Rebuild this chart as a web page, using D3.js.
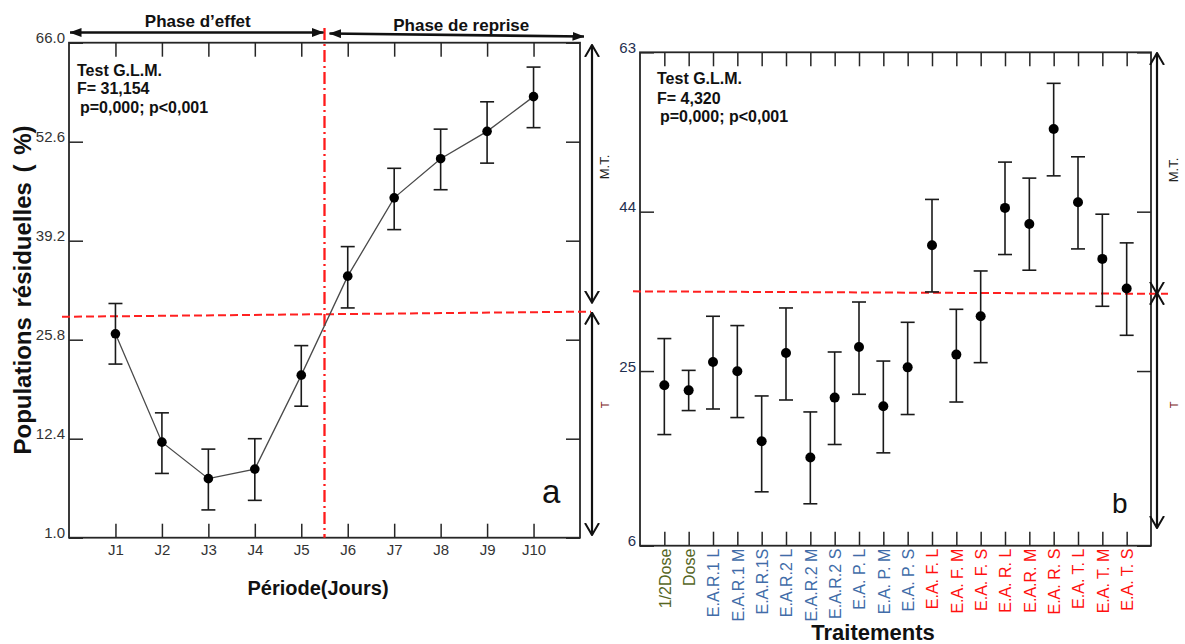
<!DOCTYPE html>
<html><head><meta charset="utf-8">
<script src="https://cdn.jsdelivr.net/npm/d3@7/dist/d3.min.js"></script>
<style>
html,body{margin:0;padding:0;background:#fff;}
svg{display:block;font-family:"Liberation Sans",Arial,sans-serif;}
</style></head><body>
<svg id="chart" width="1185" height="644"></svg>
<script>
// ---------- DATA ----------
// Panel a : residual populations over time
const days = ["J1","J2","J3","J4","J5","J6","J7","J8","J9","J10"];
const residualMean = [26.6, 12.0, 7.8, 8.9, 21.0, 34.4, 45.0, 50.3, 54.0, 58.7];
const residualLow  = [22.5, 8.4, 4.2, 5.3, 16.8, 30.1, 40.7, 46.1, 49.7, 54.5];
const residualHigh = [30.7, 15.9, 11.2, 12.4, 25.0, 38.4, 49.0, 54.3, 58.0, 62.7];
const leftTicks = [1.0, 12.4, 25.8, 39.2, 52.6, 66.0];
const leftThreshold = [28.9, 29.6];   // red dashed line (start, end)
const phaseLabels = ["Phase d\u2019effet", "Phase de reprise"];
const statsA = ["Test G.L.M.", "F= 31,154", "p=0,000; p<0,001"];

// Panel b : treatments
const treatments = ["1/2Dose","Dose","E.A.R.1 L","E.A.R.1 M","E.A.R.1S","E.A.R.2 L","E.A.R.2 M","E.A.R.2 S",
  "E.A. P. L","E.A. P. M","E.A. P. S","E.A. F. L","E.A. F. M","E.A. F. S","E.A. R. L","E.A.R. M","E.A. R. S",
  "E.A. T. L","E.A. T. M","E.A. T. S"];
const treatGroup = ["dose","dose","blue","blue","blue","blue","blue","blue","blue","blue","blue",
  "red","red","red","red","red","red","red","red","red"];
const treatMean = [23.45, 22.9, 26.07, 24.97, 17.37, 27.15, 15.6, 22.11, 27.86, 21.17, 25.44,
  40.0, 26.96, 31.53, 44.45, 42.54, 53.85, 45.13, 38.37, 34.83];
const treatLow  = [18.09, 20.7, 20.87, 19.94, 11.86, 21.85, 10.56, 17.01, 22.47, 16.1, 20.27,
  34.43, 21.63, 26.0, 38.89, 37.02, 48.27, 39.56, 32.72, 29.26];
const treatHigh = [28.87, 25.08, 31.53, 30.42, 22.29, 32.52, 20.55, 27.27, 33.23, 26.19, 30.81,
  45.46, 32.36, 36.93, 49.91, 48.0, 59.3, 50.54, 43.7, 40.28];
const rightTicks = [6, 25, 44, 63];
const rightThreshold = [34.5, 34.2];
const statsB = ["Test G.L.M.", "F= 4,320", "p=0,000; p<0,001"];

// ---------- STYLE ----------
const groupColor = {dose:"#55661f", blue:"#416ca8", red:"#ff1010"};
const ink = "#262626";
const svg = d3.select("#chart");
const defs = svg.append("defs");
defs.append("marker").attr("id","tri").attr("viewBox","0 0 12 9").attr("refX",11.5).attr("refY",4.5)
  .attr("markerWidth",12).attr("markerHeight",9).attr("markerUnits","userSpaceOnUse")
  .attr("orient","auto-start-reverse")
  .append("path").attr("d","M0,0 L12,4.5 L0,9 Z").attr("fill","#111");
defs.append("marker").attr("id","chev").attr("viewBox","0 0 13 16").attr("refX",12).attr("refY",8)
  .attr("markerWidth",13).attr("markerHeight",16).attr("markerUnits","userSpaceOnUse")
  .attr("orient","auto-start-reverse")
  .append("path").attr("d","M0,1 L12,8 L0,15").attr("fill","none").attr("stroke","#111").attr("stroke-width",2);

function frameAxes(g, x, y, box, yTicks, yFmt, yLabelColor, bottomLabels) {
  g.append("g").attr("transform",`translate(${box.x0},0)`)
    .call(d3.axisLeft(y).tickValues(yTicks).tickSizeInner(-14).tickSizeOuter(0).tickPadding(4).tickFormat(yFmt))
    .call(a=>{a.select(".domain").remove(); a.selectAll("line").attr("stroke",ink).attr("stroke-width",1.5);
      a.selectAll("text").attr("dy","0").attr("fill",yLabelColor).style("font-size","15px").style("font-family","Liberation Sans, Arial");});
  g.append("g").attr("transform",`translate(${box.x1},0)`)
    .call(d3.axisRight(y).tickValues(yTicks).tickSizeInner(-14).tickSizeOuter(0).tickFormat(""))
    .call(a=>{a.select(".domain").remove(); a.selectAll("line").attr("stroke",ink).attr("stroke-width",1.5);});
  g.append("g").attr("transform",`translate(0,${box.y0})`)
    .call(d3.axisTop(x).tickSizeInner(-14).tickSizeOuter(0).tickFormat(""))
    .call(a=>{a.select(".domain").remove(); a.selectAll("line").attr("stroke",ink).attr("stroke-width",1.5);});
  const b = g.append("g").attr("transform",`translate(0,${box.y1})`)
    .call(d3.axisBottom(x).tickSizeInner(-14).tickSizeOuter(0).tickPadding(bottomLabels ? 7 : 0).tickFormat(bottomLabels ? null : ""))
    .call(a=>{a.select(".domain").remove(); a.selectAll("line").attr("stroke",ink).attr("stroke-width",1.5);});
  g.append("rect").attr("x",box.x0).attr("y",box.y0).attr("width",box.x1-box.x0).attr("height",box.y1-box.y0)
    .attr("fill","none").attr("stroke",ink).attr("stroke-width",1.8);
  return b;
}

function errorBars(g, cats, x, y, mean, low, high, r) {
  const eb = g.append("g");
  cats.forEach((c,i)=>{
    const cx = x(c);
    eb.append("line").attr("x1",cx).attr("x2",cx).attr("y1",y(high[i])).attr("y2",y(low[i]))
      .attr("stroke","#1a1a1a").attr("stroke-width",1.6);
    [high[i], low[i]].forEach(v=>eb.append("line").attr("x1",cx-7).attr("x2",cx+7).attr("y1",y(v)).attr("y2",y(v))
      .attr("stroke","#1a1a1a").attr("stroke-width",1.6));
  });
  g.append("g").selectAll("circle").data(cats).join("circle")
    .attr("cx",c=>x(c)).attr("cy",(c,i)=>y(mean[i])).attr("r",r).attr("fill","#000");
}

// ---------- PANEL A ----------
const A = {x0:69, x1:580, y0:42.7, y1:537.7};
const gA = svg.append("g");
const xA = d3.scalePoint().domain(days).range([A.x0, A.x1]).padding(1);
const yA = d3.scaleLinear().domain(leftTicks).range(leftTicks.map((d,i)=>A.y1 - i*(A.y1-A.y0)/(leftTicks.length-1)));
const axA = frameAxes(gA, xA, yA, A, leftTicks, d3.format(".1f"), "#333", true);
axA.selectAll("text").attr("fill","#333").style("font-size","15px").style("font-family","Liberation Sans, Arial");

// red threshold line (horizontal) and phase separator (vertical)
gA.append("line").attr("x1",62).attr("x2",591).attr("y1",yA(leftThreshold[0])).attr("y2",yA(leftThreshold[1]))
  .attr("stroke","#ff2020").attr("stroke-width",2).attr("stroke-dasharray","8,4");
const sepX = (xA("J5")+xA("J6"))/2;
gA.append("line").attr("x1",sepX).attr("x2",sepX).attr("y1",28).attr("y2",A.y1)
  .attr("stroke","#ff1a1a").attr("stroke-width",2.3).attr("stroke-dasharray","12,4,2,4");

// line + error bars
gA.append("path").datum(days).attr("fill","none").attr("stroke","#4a4a4a").attr("stroke-width",1.3)
  .attr("d", d3.line().x(d=>xA(d)).y((d,i)=>yA(residualMean[i])));
errorBars(gA, days, xA, yA, residualMean, residualLow, residualHigh, 4.8);

// phase arrows
gA.append("line").attr("x1",A.x0+1).attr("x2",sepX-1).attr("y1",32.5).attr("y2",32.5)
  .attr("stroke","#111").attr("stroke-width",2.6).attr("marker-start","url(#tri)").attr("marker-end","url(#tri)");
gA.append("line").attr("x1",sepX+5).attr("x2",A.x1+4).attr("y1",33.5).attr("y2",36.5)
  .attr("stroke","#111").attr("stroke-width",2.6).attr("marker-start","url(#tri)").attr("marker-end","url(#tri)");
gA.append("text").attr("x",(A.x0+sepX)/2+1).attr("y",26.5).attr("text-anchor","middle")
  .style("font-size","17px").style("font-weight","bold").attr("fill","#111").text(phaseLabels[0]);
gA.append("text").attr("x",(sepX+A.x1)/2+9).attr("y",30.5).attr("text-anchor","middle")
  .style("font-size","17px").style("font-weight","bold").attr("fill","#111").text(phaseLabels[1]);

// stats text
[[77,76],[77,94],[80,113]].forEach((p,i)=>gA.append("text").attr("x",p[0]).attr("y",p[1])
  .style("font-size","16px").style("font-weight","bold").attr("fill","#111").text(statsA[i]));

// panel letter
gA.append("text").attr("x",542).attr("y",502.5).style("font-size","33px").attr("fill","#111").text("a");

// axis titles
gA.append("text").attr("transform","translate(31,290) rotate(-90)").attr("text-anchor","middle")
  .style("font-size","24px").style("font-weight","bold").style("word-spacing","3px").attr("fill","#111")
  .text("Populations r\u00e9siduelles ( %)");
gA.append("text").attr("x",318).attr("y",595).attr("text-anchor","middle")
  .style("font-size","20px").style("font-weight","bold").attr("fill","#111").text("P\u00e9riode(Jours)");

// side arrows
function sideArrows(g, x, yTop, ySplitA, ySplitB, yBot, lx, mtY, tY) {
  g.append("line").attr("x1",x).attr("x2",x).attr("y1",yTop).attr("y2",ySplitA)
    .attr("stroke","#111").attr("stroke-width",2.2).attr("marker-start","url(#chev)").attr("marker-end","url(#chev)");
  g.append("line").attr("x1",x).attr("x2",x).attr("y1",ySplitB).attr("y2",yBot)
    .attr("stroke","#111").attr("stroke-width",2.2).attr("marker-start","url(#chev)").attr("marker-end","url(#chev)");
  g.append("text").attr("transform",`translate(${lx},${mtY}) rotate(-90)`).attr("text-anchor","middle")
    .style("font-size","13px").attr("fill","#222").text("M.T.");
  g.append("text").attr("transform",`translate(${lx},${tY}) rotate(-90)`).attr("text-anchor","middle")
    .style("font-size","11px").attr("fill","#7a1a1a").text("T");
}
sideArrows(gA, 592, 45, yA(leftThreshold[1])-9, yA(leftThreshold[1])+1, 535, 609, 167, 405);

// ---------- PANEL B ----------
const B = {x0:640, x1:1151, y0:52.3, y1:545.7};
const gB = svg.append("g");
const xB = d3.scalePoint().domain(treatments).range([B.x0, B.x1]).padding(1);
const yB = d3.scaleLinear().domain([6, 25, 63]).range([B.y1, B.y1 - 0.354*(B.y1-B.y0), B.y0]);
const axB = frameAxes(gB, xB, yB, B, rightTicks, d3.format("d"), "#1f2f4f", true);
axB.selectAll(".tick text")
  .attr("transform","rotate(-90)").attr("text-anchor","end").attr("x",-3).attr("y",0).attr("dy","0.36em")
  .style("font-size","16px").style("font-family","Liberation Sans, Arial")
  .attr("fill",(d)=>groupColor[treatGroup[treatments.indexOf(d)]]);

gB.append("line").attr("x1",633).attr("x2",1168).attr("y1",yB(rightThreshold[0])).attr("y2",yB(rightThreshold[1]))
  .attr("stroke","#ff2020").attr("stroke-width",2).attr("stroke-dasharray","8,4");
errorBars(gB, treatments, xB, yB, treatMean, treatLow, treatHigh, 5);

[[657,84],[657,104],[660,122]].forEach((p,i)=>gB.append("text").attr("x",p[0]).attr("y",p[1])
  .style("font-size","16px").style("font-weight","bold").attr("fill","#111").text(statsB[i]));
gB.append("text").attr("x",1112).attr("y",513).style("font-size","28px").attr("fill","#111").text("b");
gB.append("text").attr("x",873).attr("y",640).attr("text-anchor","middle")
  .style("font-size","22px").style("font-weight","bold").attr("fill","#111").text("Traitements");

sideArrows(gB, 1157, 53, yB(rightThreshold[1]), yB(rightThreshold[1])-1, 528, 1178, 170, 405);
</script>
</body></html>
